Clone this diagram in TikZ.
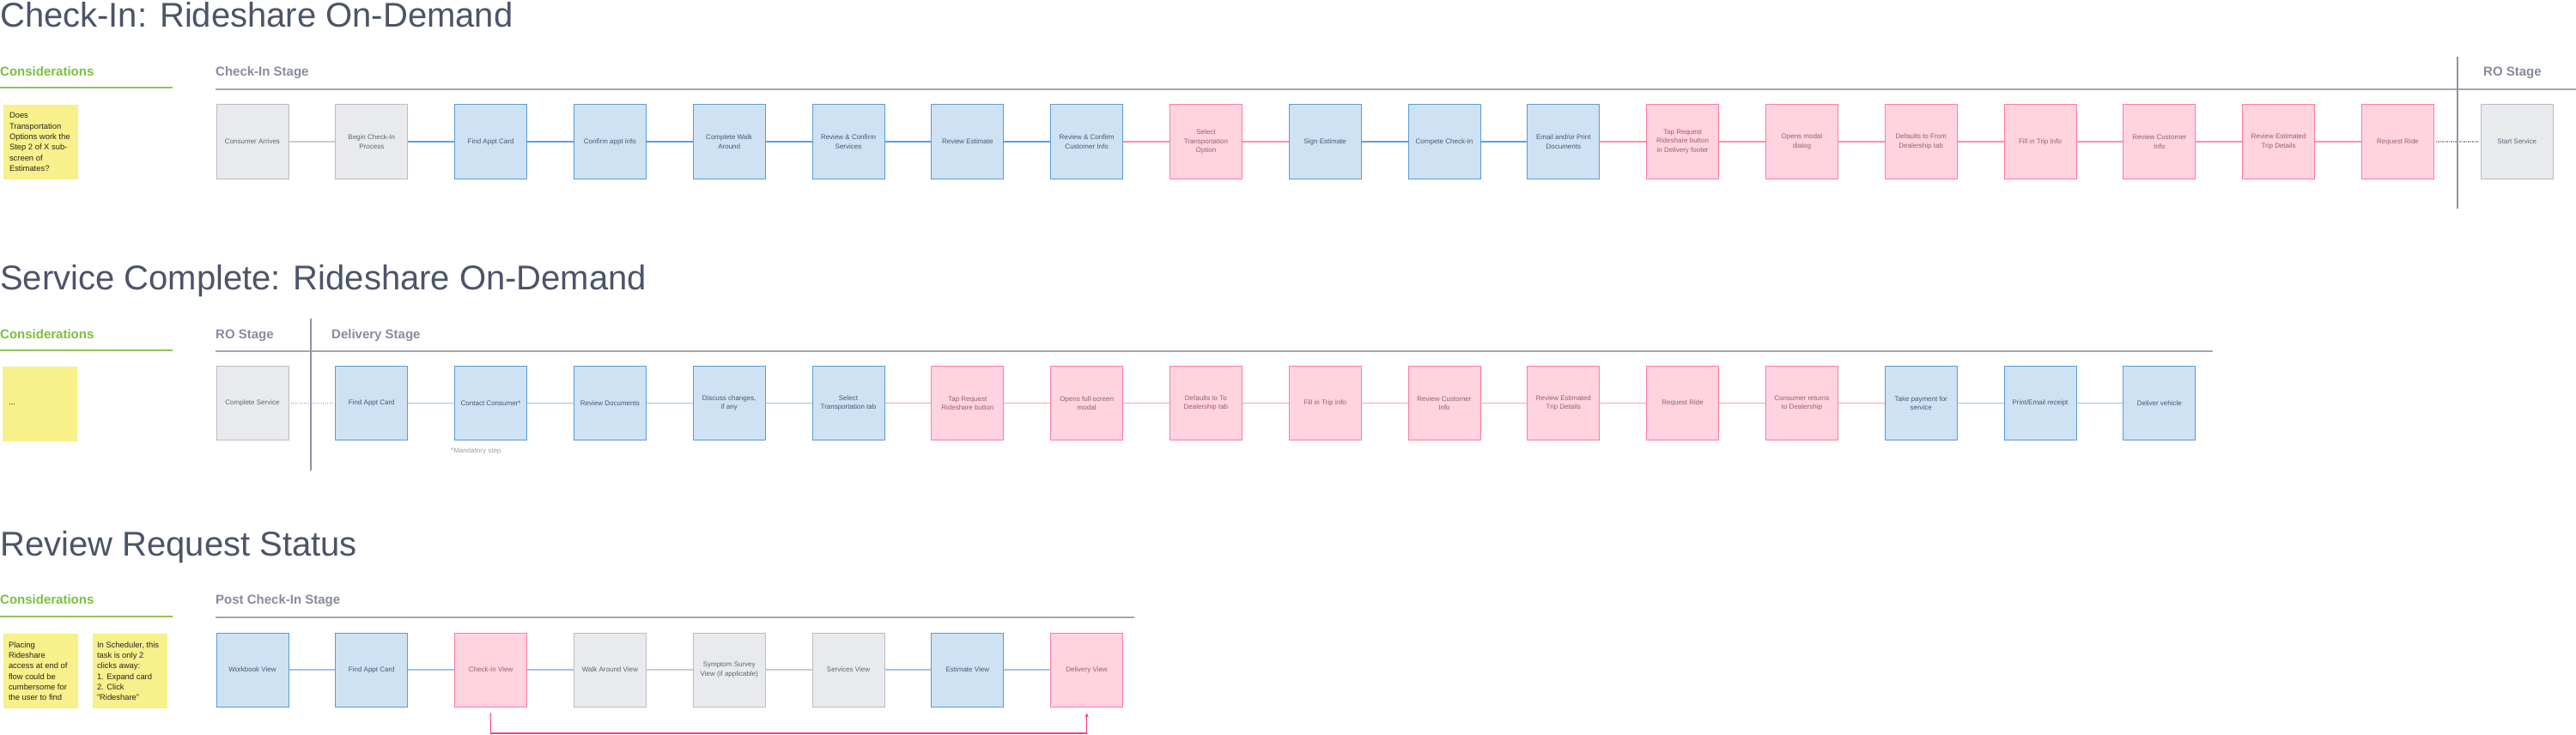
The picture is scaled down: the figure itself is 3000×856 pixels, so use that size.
\documentclass[tikz,border=0pt]{standalone}
\usepackage{fontspec}
\setmainfont{Liberation Sans}
\usetikzlibrary{arrows.meta}
\definecolor{titlec}{HTML}{4B5468}
\definecolor{greenc}{HTML}{7CBF3F}
\definecolor{greenl}{HTML}{8CC65A}
\definecolor{stagec}{HTML}{878C9C}
\definecolor{stagel}{HTML}{A4A7B5}
\definecolor{vline}{HTML}{8F93A3}
\definecolor{stickyc}{HTML}{F8F08A}
\definecolor{gfill}{HTML}{E9EAEE}
\definecolor{gdraw}{HTML}{B9BCC4}
\definecolor{gtext}{HTML}{5E6472}
\definecolor{bfill}{HTML}{CEE2F3}
\definecolor{bdraw}{HTML}{5B9BD5}
\definecolor{btext}{HTML}{4C5670}
\definecolor{pfill}{HTML}{FFD3DF}
\definecolor{pdraw}{HTML}{FF7C9C}
\definecolor{ptext}{HTML}{98606F}
\definecolor{lblue}{HTML}{5DA2DC}
\definecolor{lbluel}{HTML}{9FC6E8}
\definecolor{lpink}{HTML}{FF8EAC}
\definecolor{lpinkl}{HTML}{FFA0BB}
\definecolor{lgray}{HTML}{CBCDD4}
\definecolor{dotc}{HTML}{9A9EAA}
\definecolor{arrowc}{HTML}{FF3D7A}
\definecolor{notec}{HTML}{9A9EA8}
\begin{document}
\begin{tikzpicture}[x=1pt,y=-1pt,
  title/.style={anchor=base west,inner sep=0pt,text=titlec,font=\fontsize{40}{48}\selectfont},
  consid/.style={anchor=base west,inner sep=0pt,text=greenc,font=\bfseries\fontsize{15}{18}\selectfont},
  stagelbl/.style={anchor=base west,inner sep=0pt,text=stagec,font=\bfseries\fontsize{15}{18}\selectfont},
  stageline/.style={draw=stagel,line width=2pt},
  greenline/.style={draw=greenl,line width=2pt},
  divline/.style={draw=vline,line width=1.5pt},
  sticky/.style={fill=stickyc,draw=none,minimum width=87pt,minimum height=87pt,inner sep=0pt},
  stickytext/.style={anchor=west,inner sep=0pt,align=left,text=black!85,font=\fontsize{9.4}{12.3}\selectfont},
  box/.style={rectangle,minimum width=84pt,minimum height=86pt,line width=1pt,align=center,font=\fontsize{8}{10.3}\selectfont,inner sep=2pt},
  gbox/.style={box,fill=gfill,draw=gdraw,text=gtext},
  bbox/.style={box,fill=bfill,draw=bdraw,text=btext},
  pbox/.style={box,fill=pfill,draw=pdraw,text=ptext},
  cgray/.style={draw=lgray,line width=1.5pt},
  cblue/.style={draw=lblue,line width=1.5pt},
  cpink/.style={draw=lpink,line width=1.5pt},
  cbluel/.style={draw=lbluel,line width=1.8pt},
  cpinkl/.style={draw=lpinkl,line width=1.8pt},
  dotconn/.style={draw=dotc,line width=1.2pt,dash pattern=on 1.2pt off 1.3pt,shorten <=2pt,shorten >=2pt},
  notetext/.style={anchor=base west,inner sep=0pt,text=notec,font=\fontsize{8}{10}\selectfont},
  parrow/.style={draw=arrowc,line width=1.5pt,-{Stealth[length=5pt,width=4.5pt]}}
]
\useasboundingbox (0,0) rectangle (3000,856);
\fill[white] (0,0) rectangle (3000,856);

% ================= Row 1 =================
\node[title] (t1) at (0,32) {Check-In: Rideshare On-Demand};
\node[consid] (c1) at (0,88.5) {Considerations};
\node[stagelbl] (s1) at (251,88.5) {Check-In Stage};
\node[stagelbl] (s1b) at (2892,88.5) {RO Stage};
\draw[greenline] (0,102) -- (201,102);
\draw[stageline] (251,104) -- (3000,104);
\draw[divline] (2862,66) -- (2862,243);
\node[sticky] (n1) at (47.5,165.5) {};
\node[stickytext] (n1t) at ([xshift=7pt]n1.west) {Does\\Transportation\\Options work the\\Step 2 of X sub-\\screen of\\Estimates?};

\node[gbox] (a1) at (294,165) {Consumer Arrives};
\node[gbox] (a2) at (432.8,165) {Begin Check-In\\Process};
\node[bbox] (a3) at (571.6,165) {Find Appt Card};
\node[bbox] (a4) at (710.4,165) {Confirm appt info};
\node[bbox] (a5) at (849.2,165) {Complete Walk\\Around};
\node[bbox] (a6) at (988,165) {Review \& Confirm\\Services};
\node[bbox] (a7) at (1126.8,165) {Review Estimate};
\node[bbox] (a8) at (1265.6,165) {Review \& Confirm\\Customer Info};
\node[pbox] (a9) at (1404.4,165) {Select\\Transportation\\Option};
\node[bbox] (a10) at (1543.2,165) {Sign Estimate};
\node[bbox] (a11) at (1682,165) {Compete Check-In};
\node[bbox] (a12) at (1820.8,165) {Email and/or Print\\Documents};
\node[pbox] (a13) at (1959.6,165) {Tap Request\\Rideshare button\\in Delivery footer};
\node[pbox] (a14) at (2098.4,165) {Opens modal\\dialog};
\node[pbox] (a15) at (2237.2,165) {Defaults to From\\Dealership tab};
\node[pbox] (a16) at (2376,165) {Fill in Trip Info};
\node[pbox] (a17) at (2514.8,165) {Review Customer\\Info};
\node[pbox] (a18) at (2653.6,165) {Review Estimated\\Trip Details};
\node[pbox] (a19) at (2792.4,165) {Request Ride};
\node[gbox] (a20) at (2931.2,165) {Start Service};

\draw[cgray] (a1) -- (a2);
\draw[cblue] (a2) -- (a3);
\draw[cblue] (a3) -- (a4);
\draw[cblue] (a4) -- (a5);
\draw[cblue] (a5) -- (a6);
\draw[cblue] (a6) -- (a7);
\draw[cblue] (a7) -- (a8);
\draw[cpink] (a8) -- (a9);
\draw[cpink] (a9) -- (a10);
\draw[cblue] (a10) -- (a11);
\draw[cblue] (a11) -- (a12);
\draw[cpink] (a12) -- (a13);
\draw[cpink] (a13) -- (a14);
\draw[cpink] (a14) -- (a15);
\draw[cpink] (a15) -- (a16);
\draw[cpink] (a16) -- (a17);
\draw[cpink] (a17) -- (a18);
\draw[cpink] (a18) -- (a19);
\draw[dotconn] (a19) -- (a20);

% ================= Row 2 =================
\node[title] (t2) at (0,337) {Service Complete: Rideshare On-Demand};
\node[consid] (c2) at (0,394) {Considerations};
\node[stagelbl] (s2) at (251,394) {RO Stage};
\node[stagelbl] (s2b) at (386,394) {Delivery Stage};
\draw[greenline] (0,408) -- (201,408);
\draw[stageline] (251,409) -- (2577,409);
\draw[divline] (362,371) -- (362,548);
\node[sticky] (n2) at (46.5,470.5) {};
\node[stickytext] (n2t) at ([xshift=7pt]n2.west) {...};

\node[gbox] (b1) at (294,469.5) {Complete Service};
\node[bbox] (b2) at (432.8,469.5) {Find Appt Card};
\node[bbox] (b3) at (571.6,469.5) {Contact Consumer*};
\node[bbox] (b4) at (710.4,469.5) {Review Documents};
\node[bbox] (b5) at (849.2,469.5) {Discuss changes,\\if any};
\node[bbox] (b6) at (988,469.5) {Select\\Transportation tab};
\node[pbox] (b7) at (1126.8,469.5) {Tap Request\\Rideshare button};
\node[pbox] (b8) at (1265.6,469.5) {Opens full-screen\\modal};
\node[pbox] (b9) at (1404.4,469.5) {Defaults to To\\Dealership tab};
\node[pbox] (b10) at (1543.2,469.5) {Fill in Trip Info};
\node[pbox] (b11) at (1682,469.5) {Review Customer\\Info};
\node[pbox] (b12) at (1820.8,469.5) {Review Estimated\\Trip Details};
\node[pbox] (b13) at (1959.6,469.5) {Request Ride};
\node[pbox] (b14) at (2098.4,469.5) {Consumer returns\\to Dealership};
\node[bbox] (b15) at (2237.2,469.5) {Take payment for\\service};
\node[bbox] (b16) at (2376,469.5) {Print/Email receipt};
\node[bbox] (b17) at (2514.8,469.5) {Deliver vehicle};
\node[notetext] (mand) at (525,527) {*Mandatory step};

\draw[dotconn] (b1) -- (b2);
\draw[cbluel] (b2) -- (b3);
\draw[cbluel] (b3) -- (b4);
\draw[cbluel] (b4) -- (b5);
\draw[cbluel] (b5) -- (b6);
\draw[cpinkl] (b6) -- (b7);
\draw[cpinkl] (b7) -- (b8);
\draw[cpinkl] (b8) -- (b9);
\draw[cpinkl] (b9) -- (b10);
\draw[cpinkl] (b10) -- (b11);
\draw[cpinkl] (b11) -- (b12);
\draw[cpinkl] (b12) -- (b13);
\draw[cpinkl] (b13) -- (b14);
\draw[cpinkl] (b14) -- (b15);
\draw[cbluel] (b15) -- (b16);
\draw[cbluel] (b16) -- (b17);

% ================= Row 3 =================
\node[title] (t3) at (0,647) {Review Request Status};
\node[consid] (c3) at (0,703) {Considerations};
\node[stagelbl] (s3) at (251,703) {Post Check-In Stage};
\draw[greenline] (0,718) -- (201,718);
\draw[stageline] (251,719) -- (1321,719);
\node[sticky] (n3) at (47.5,781.5) {};
\node[stickytext] (n3t) at ([xshift=6pt]n3.west) {Placing\\Rideshare\\access at end of\\flow could be\\cumbersome for\\the user to find};
\node[sticky] (n4) at (151,781.5) {};
\node[stickytext] (n4t) at ([xshift=5.5pt]n4.west) {In Scheduler, this\\task is only 2\\clicks away:\\1. Expand card\\2. Click\\"Rideshare"};

\node[bbox] (r1) at (294,780) {Workbook View};
\node[bbox] (r2) at (432.8,780) {Find Appt Card};
\node[pbox] (r3) at (571.6,780) {Check-In View};
\node[gbox] (r4) at (710.4,780) {Walk Around View};
\node[gbox] (r5) at (849.2,780) {Symptom Survey\\View (if applicable)};
\node[gbox] (r6) at (988,780) {Services View};
\node[bbox] (r7) at (1126.8,780) {Estimate View};
\node[pbox] (r8) at (1265.6,780) {Delivery View};

\draw[cbluel] (r1) -- (r2);
\draw[cbluel] (r2) -- (r3);
\draw[cbluel] (r3) -- (r4);
\draw[cgray] (r4) -- (r5);
\draw[cgray] (r5) -- (r6);
\draw[cbluel] (r6) -- (r7);
\draw[cbluel] (r7) -- (r8);

\coordinate (low) at (0,854);
\draw[parrow] ([yshift=-6pt]r3.south) -- (r3.south |- low) -- (r8.south |- low) -- ([yshift=-7pt]r8.south);
\end{tikzpicture}
\end{document}
